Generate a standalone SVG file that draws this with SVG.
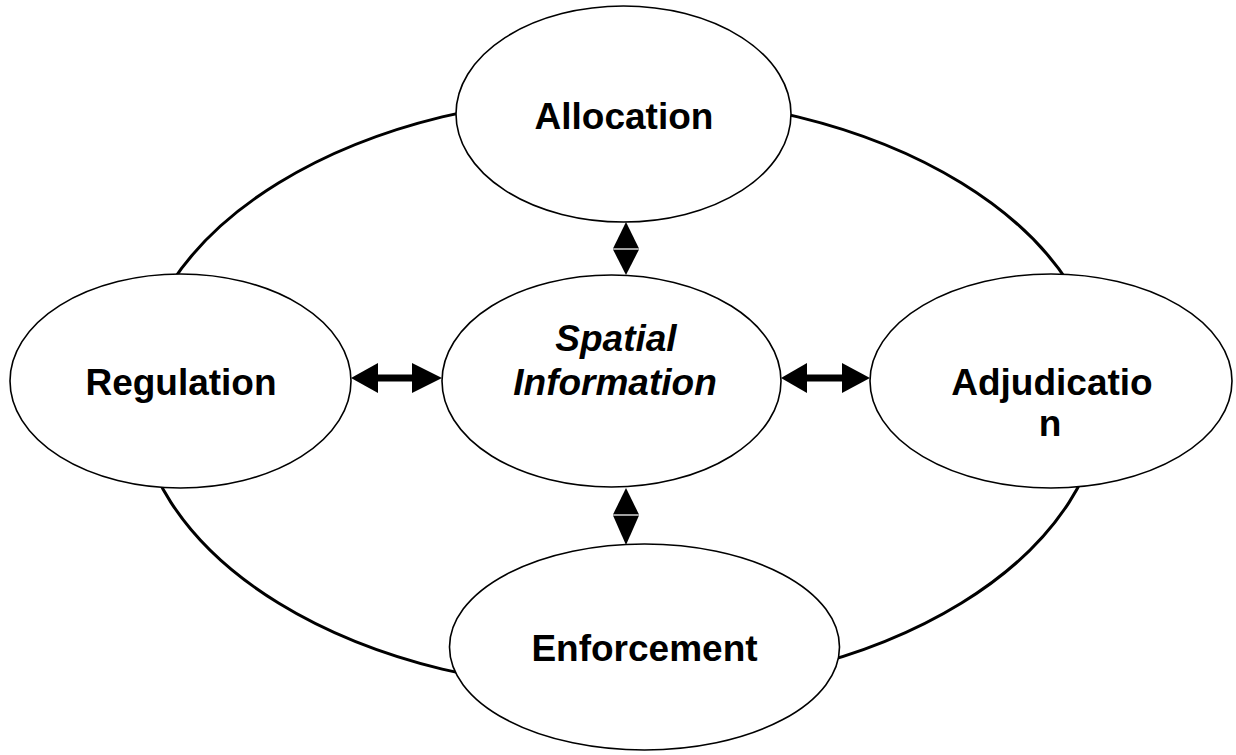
<svg xmlns="http://www.w3.org/2000/svg" width="1236" height="755" viewBox="0 0 1236 755">
<style>
.node{fill:#fff;stroke:#000;stroke-width:1.6}
.ring{fill:none;stroke:#000;stroke-width:3}
.lbl{font-family:"Liberation Sans",Arial,sans-serif;font-size:37px;font-weight:bold;fill:#000;text-anchor:middle}
.it{font-style:italic}
.head{fill:#000;stroke:none}
.seam{stroke:#aaa;stroke-width:1.5}
</style>
<rect width="1236" height="755" fill="#fff"/>
<g id="cycle">
<ellipse class="ring" cx="620" cy="393" rx="483" ry="297"/>
</g>
<g id="allocation">
<ellipse class="node" cx="623.5" cy="114" rx="167.5" ry="108"/>
<text class="lbl" x="624" y="129">Allocation</text>
</g>
<g id="regulation">
<ellipse class="node" cx="180.5" cy="381" rx="170.5" ry="107"/>
<text class="lbl" x="181" y="395">Regulation</text>
</g>
<g id="spatial-information">
<ellipse class="node" cx="611.5" cy="381" rx="169.5" ry="106"/>
<text class="lbl it" x="616" y="351">Spatial</text>
<text class="lbl it" x="615" y="395">Information</text>
</g>
<g id="adjudication">
<ellipse class="node" cx="1051" cy="381" rx="181" ry="107"/>
<text class="lbl" x="1052" y="395">Adjudicatio</text>
<text class="lbl" x="1050" y="436">n</text>
</g>
<g id="enforcement">
<ellipse class="node" cx="644.5" cy="647" rx="195" ry="103"/>
<text class="lbl" x="644.5" y="661">Enforcement</text>
</g>
<g id="connectors">
<g id="arrow-allocation-spatial">
<polygon class="head" points="626,222 613,248.5 639,248.5"/>
<polygon class="head" points="613,249.5 639,249.5 626,275"/>
<line class="seam" x1="614" y1="249" x2="638" y2="249"/>
</g>
<g id="arrow-spatial-enforcement">
<polygon class="head" points="626,488 613,514.5 639,514.5"/>
<polygon class="head" points="613,515.5 639,515.5 626,545"/>
<line class="seam" x1="614" y1="515" x2="638" y2="515"/>
</g>
<g id="arrow-regulation-spatial">
<polygon class="head" points="351,378 378,363 378,393"/>
<rect class="head" x="377" y="374.5" width="36" height="7"/>
<polygon class="head" points="442,378 412,363 412,393"/>
</g>
<g id="arrow-spatial-adjudication">
<polygon class="head" points="781,378 807,363 807,393"/>
<rect class="head" x="806" y="374.5" width="37" height="7"/>
<polygon class="head" points="870,378 842,363 842,393"/>
</g>
</g>
</svg>
